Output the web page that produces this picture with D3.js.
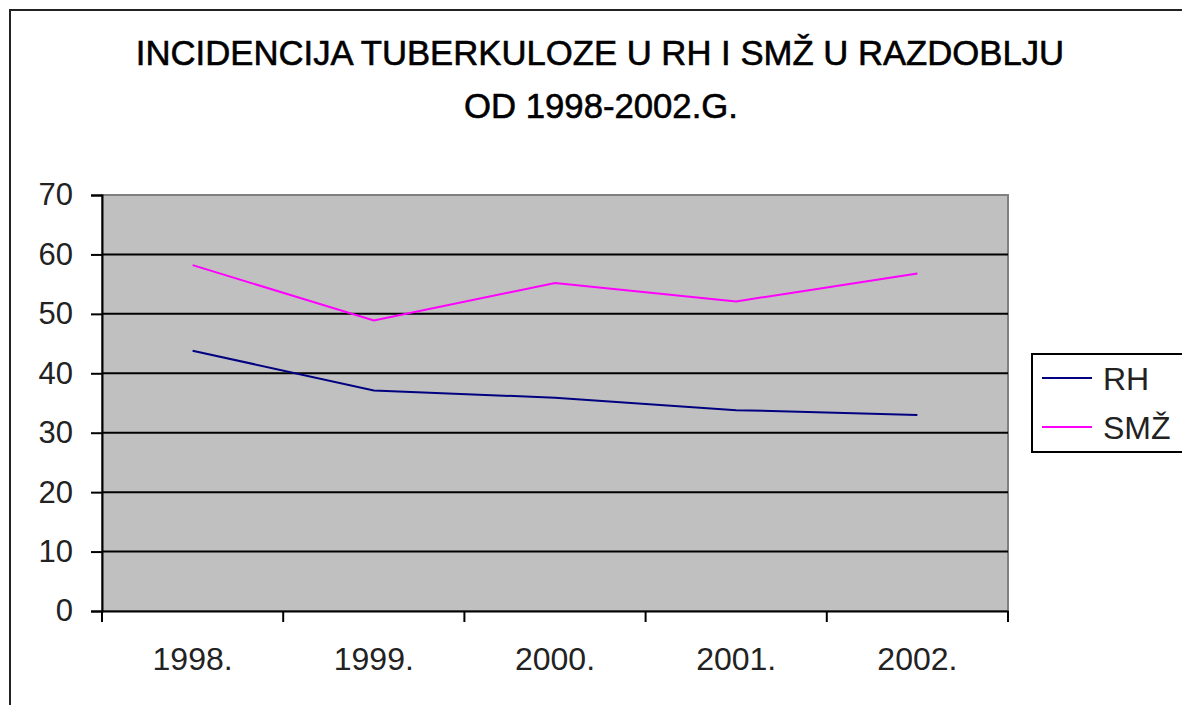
<!DOCTYPE html>
<html>
<head>
<meta charset="utf-8">
<script src="https://cdn.jsdelivr.net/npm/d3@7"></script>
<style>
  body { margin: 0; background: #fff; }
  text { font-family: "Liberation Sans", Arial, sans-serif; }
</style>
</head>
<body>
<div id="chart"></div>
<script>
// data
const years = ["1998.", "1999.", "2000.", "2001.", "2002."];
const rh = [43.8, 37.1, 35.9, 33.8, 33.0];
const smz = [58.2, 48.9, 55.2, 52.1, 56.8];
const seriesNames = ["RH", "SMŽ"];
const seriesColors = ["#000080", "#ff00ff"];
const yTicks = [0, 10, 20, 30, 40, 50, 60, 70];

const W = 1182, H = 705;
const margin = { top: 195, right: 174, bottom: 94, left: 102 };
const width = W - margin.left - margin.right;
const height = H - margin.top - margin.bottom;

const svg = d3.select("#chart").append("svg")
    .attr("width", W)
    .attr("height", H);

// outer chart border (cut off at right and bottom)
svg.append("rect")
    .attr("x", 10).attr("y", 10)
    .attr("width", W).attr("height", H)
    .attr("fill", "none")
    .attr("stroke", "#222")
    .attr("stroke-width", 2);

// title
const title = svg.append("text")
    .attr("text-anchor", "middle")
    .attr("font-size", 34.7)
    .attr("fill", "#000")
    .attr("stroke", "#000")
    .attr("stroke-width", 0.6);
title.append("tspan").attr("x", 600).attr("y", 65)
    .text("INCIDENCIJA TUBERKULOZE U RH I SMŽ U RAZDOBLJU");
title.append("tspan").attr("x", 601).attr("y", 118)
    .text("OD 1998-2002.G.");

const g = svg.append("g")
    .attr("transform", "translate(" + margin.left + "," + margin.top + ")");

const x = d3.scaleBand().domain(years).range([0, width]);
const y = d3.scaleLinear().domain([0, 70]).range([height, 0]);

// plot area
g.append("rect")
    .attr("width", width).attr("height", height)
    .attr("fill", "#c0c0c0")
    .attr("stroke", "#808080")
    .attr("stroke-width", 2);

// gridlines
g.selectAll(".grid").data(yTicks.filter(d => d > 0 && d < 70))
    .enter().append("line")
    .attr("x1", 0).attr("x2", width)
    .attr("y1", d => y(d)).attr("y2", d => y(d))
    .attr("stroke", "#000")
    .attr("stroke-width", 2);

// y axis
const yAxis = g.append("g")
    .call(d3.axisLeft(y).tickValues(yTicks).tickSize(11).tickPadding(18));
yAxis.selectAll("text").attr("font-size", 31).attr("fill", "#222")
    .style("font-family", "'Liberation Sans', Arial, sans-serif");
yAxis.selectAll("line, path").attr("stroke", "#000").attr("stroke-width", 2);

// x axis
const xAxis = g.append("g")
    .attr("transform", "translate(0," + height + ")")
    .call(d3.axisBottom(x).tickSize(0).tickPadding(36));
xAxis.selectAll("text").attr("font-size", 32).attr("fill", "#222")
    .style("font-family", "'Liberation Sans', Arial, sans-serif");
xAxis.select("path").attr("stroke", "#000").attr("stroke-width", 2);

// x ticks at category boundaries
const bounds = years.map(d => x(d)).concat([width]);
xAxis.selectAll(".btick").data(bounds)
    .enter().append("line")
    .attr("x1", d => d).attr("x2", d => d)
    .attr("y1", 0).attr("y2", 11)
    .attr("stroke", "#000")
    .attr("stroke-width", 2);

// lines
const series = [rh, smz];
const line = d3.line()
    .x((d, i) => x(years[i]) + x.bandwidth() / 2)
    .y(d => y(d));

series.forEach((s, i) => {
    g.append("path")
        .datum(s)
        .attr("fill", "none")
        .attr("stroke", seriesColors[i])
        .attr("stroke-width", 2)
        .attr("d", line);
});

// legend
const legend = svg.append("g")
    .attr("transform", "translate(1032,354)");

legend.append("rect")
    .attr("width", 160).attr("height", 98)
    .attr("fill", "#fff")
    .attr("stroke", "#000")
    .attr("stroke-width", 2);

seriesNames.forEach((name, i) => {
    const row = legend.append("g")
        .attr("transform", "translate(0," + (24 + i * 49) + ")");
    row.append("line")
        .attr("x1", 10).attr("x2", 60)
        .attr("stroke", seriesColors[i])
        .attr("stroke-width", 2);
    row.append("text")
        .attr("x", 71).attr("y", 12)
        .attr("font-size", 32)
        .attr("fill", "#222")
        .text(name);
});
</script>
</body>
</html>
